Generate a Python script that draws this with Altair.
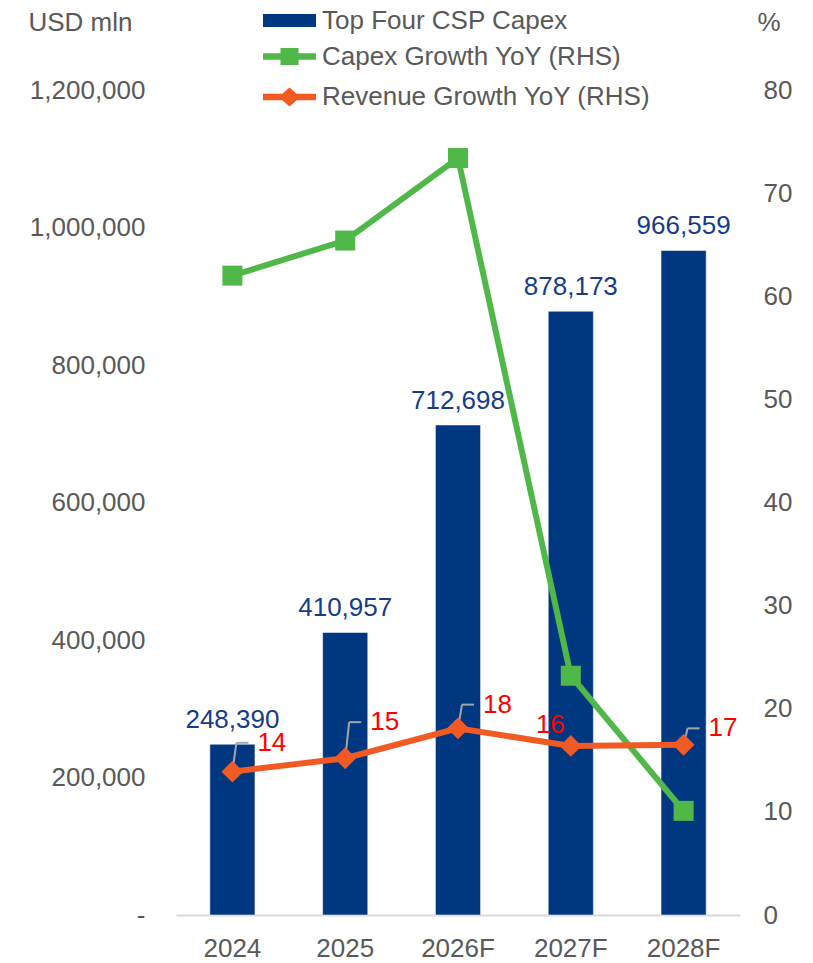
import altair as alt
import pandas as pd

# ---------------- data ----------------
years = ["2024", "2025", "2026F", "2027F", "2028F"]
capex = [248390, 410957, 712698, 878173, 966559]
capex_growth = [62.0, 65.4, 73.4, 23.2, 10.1]
revenue_growth = [13.9, 15.2, 18.1, 16.4, 16.5]
revenue_labels = ["14", "15", "18", "16", "17"]
# level (in % units on the right axis) where each revenue label sits
revenue_label_level = [16.7, 18.7, 20.4, 18.4, 18.1]

series_names = ["Top Four CSP Capex", "Capex Growth YoY (RHS)", "Revenue Growth YoY (RHS)"]
left_ticks = [0, 200000, 400000, 600000, 800000, 1000000, 1200000]
right_ticks = [0, 10, 20, 30, 40, 50, 60, 70, 80]

# ---------------- styles ----------------
FONT = "Liberation Sans"
FS = 26
GREY_TXT = "#595959"
NAVY = "#003781"
NAVY_TXT = "#173C87"
GREEN = "#50B848"
ORANGE = "#F15A22"
RED = "#FF0000"
LEADER = "#A6A6A6"

df = pd.DataFrame({
    "year": years,
    "capex": capex,
    "cg": capex_growth,
    "rg": revenue_growth,
    "rlab": revenue_labels,
    "lev": revenue_label_level,
})
df["s_bar"] = series_names[0]
df["s_cg"] = series_names[1]
df["s_rg"] = series_names[2]

leader_df = df[df["year"] != "2027F"]
lab_right_df = df[df["year"] != "2027F"]
lab_left_df = df[df["year"] == "2027F"]

x_enc = alt.X(
    "year:N", sort=years,
    scale=alt.Scale(paddingInner=0.6, paddingOuter=0.3),
    axis=alt.Axis(title=None, labelAngle=0, ticks=False, domain=True,
                  domainColor="#D9D9D9", domainWidth=2, labelPadding=20,
                  labelFont=FONT, labelFontSize=FS, labelColor=GREY_TXT, grid=False),
)
x_plain = alt.X("year:N", sort=years)

def legend(x, y, path):
    return alt.Legend(
        orient="none", legendX=x, legendY=y, title=None, padding=0,
        symbolType=path, symbolSize=2809, symbolStrokeWidth=0,
        labelFont=FONT, labelFontSize=FS, labelColor=GREY_TXT,
        labelOffset=6, labelLimit=600,
    )

BAR_PATH = "M-1,-0.245H1V0.245H-1Z"
SQ_PATH = "M-1,-0.12H-0.34V-0.32H0.34V-0.12H1V0.12H0.34V0.32H-0.34V0.12H-1Z"
DI_PATH = "M-1,-0.12H-0.27L0,-0.36L0.27,-0.12H1V0.12H0.27L0,0.36L-0.27,0.12H-1Z"

left_label_expr = "datum.value == 0 ? '-\u00a0\u00a0' : format(datum.value, ',')"

y_left = alt.Y(
    "capex:Q",
    scale=alt.Scale(domain=[0, 1200000]),
    axis=alt.Axis(values=left_ticks, labelExpr=left_label_expr, grid=False,
                  domain=False, ticks=False, labelPadding=31,
                  labelFont=FONT, labelFontSize=FS, labelColor=GREY_TXT,
                  title="USD mln", titleAngle=0, titleX=-148, titleY=-68,
                  titleAlign="left", titleBaseline="middle",
                  titleFont=FONT, titleFontSize=FS, titleColor=GREY_TXT,
                  titleFontWeight="normal"),
)

bars = alt.Chart(df).mark_bar(stroke="white", strokeWidth=0.5).encode(
    x=x_enc,
    y=y_left,
    color=alt.Color("s_bar:N", scale=alt.Scale(domain=[series_names[0]], range=[NAVY]),
                    legend=legend(87, -96, BAR_PATH)),
)
bar_labels = alt.Chart(df).mark_text(
    dy=-24, baseline="middle", align="center", font=FONT, fontSize=FS, color=NAVY_TXT
).encode(x=x_plain, y=alt.Y("capex:Q"), text=alt.Text("capex:Q", format=",.0f"))

left = alt.layer(bars, bar_labels)

# one shared right-axis definition used by every layer on the % scale
r_axis = alt.Axis(orient="right", values=right_ticks, grid=False, domain=False,
                  ticks=False, labelPadding=23,
                  labelFont=FONT, labelFontSize=FS, labelColor=GREY_TXT,
                  title="%", titleAngle=0, titleX=17, titleY=-68,
                  titleAlign="left", titleBaseline="middle",
                  titleFont=FONT, titleFontSize=FS, titleColor=GREY_TXT,
                  titleFontWeight="normal")
r_scale = alt.Scale(domain=[0, 80])

def yr(field):
    return alt.Y(field, type="quantitative", scale=r_scale, axis=r_axis, title="%")

g_line = alt.Chart(df).mark_line(color=GREEN, strokeWidth=6).encode(x=x_plain, y=yr("cg"))
g_pts = alt.Chart(df).mark_point(shape="square", filled=True, size=400, opacity=1).encode(
    x=x_plain, y=yr("cg"),
    color=alt.Color("s_cg:N", scale=alt.Scale(domain=[series_names[1]], range=[GREEN]),
                    legend=legend(87, -60, SQ_PATH)),
)
o_line = alt.Chart(df).mark_line(color=ORANGE, strokeWidth=6).encode(x=x_plain, y=yr("rg"))
o_pts = alt.Chart(df).mark_point(shape="diamond", filled=True, size=480, opacity=1).encode(
    x=x_plain, y=yr("rg"),
    color=alt.Color("s_rg:N", scale=alt.Scale(domain=[series_names[2]], range=[ORANGE]),
                    legend=legend(87, -19.5, DI_PATH)),
)
lead_v = alt.Chart(leader_df).mark_rule(color=LEADER, strokeWidth=2, xOffset=0, x2Offset=4).encode(
    x=x_plain, x2=alt.X2("year"), y=yr("rg"), y2=alt.Y2("lev"))
lead_h = alt.Chart(leader_df).mark_rule(color=LEADER, strokeWidth=2, xOffset=4, x2Offset=16).encode(
    x=x_plain, x2=alt.X2("year"), y=yr("lev"))
r_lab1 = alt.Chart(lab_right_df).mark_text(
    align="left", baseline="middle", dx=25, font=FONT, fontSize=FS, color=RED
).encode(x=x_plain, y=yr("lev"), text="rlab:N")
r_lab2 = alt.Chart(lab_left_df).mark_text(
    align="right", baseline="middle", dx=-6, font=FONT, fontSize=FS, color=RED
).encode(x=x_plain, y=yr("lev"), text="rlab:N")

right = alt.layer(g_line, g_pts, lead_v, lead_h, o_line, o_pts, r_lab1, r_lab2).resolve_scale(
    color="independent")

chart = alt.layer(left, right).resolve_scale(
    y="independent", color="independent"
).properties(
    width=564, height=825,
    autosize=alt.AutoSizeParams(type="none"),
    padding={"left": 168, "top": 82, "right": 65, "bottom": 48},
).configure_view(stroke=None)

chart.save("out.html", embed_options={"renderer": "svg", "actions": False})
